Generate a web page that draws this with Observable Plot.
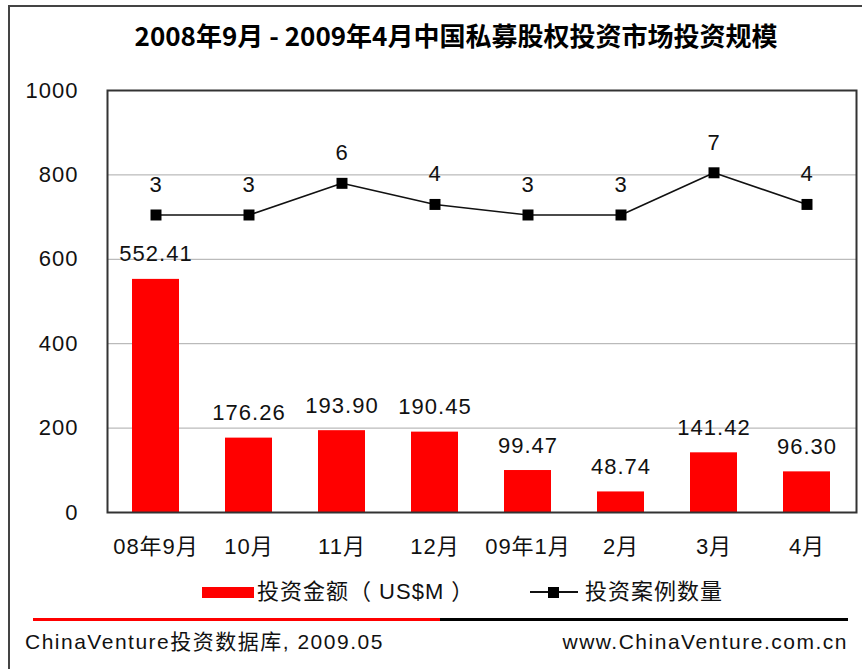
<!DOCTYPE html>
<html>
<head>
<meta charset="utf-8">
<script src="https://cdn.jsdelivr.net/npm/d3@7"></script>
<script src="https://cdn.jsdelivr.net/npm/@observablehq/plot@0.6"></script>
<style>
  html, body { margin: 0; padding: 0; background: #fff; overflow: hidden; }
  #wrap { position: relative; width: 862px; height: 669px; overflow: hidden; font-family: "Liberation Sans", Arial, "Noto Sans CJK SC", sans-serif; color: #111; }
  #outer { position: absolute; left: 8px; top: 5px; width: 900px; height: 700px; border-left: 2px solid #444; border-top: 2px solid #444; }
  #title { position: absolute; left: 0; width: 912px; top: 17px; text-align: center; font-family: "Noto Sans CJK SC", sans-serif; font-weight: 700; font-size: 26px; line-height: 36px; white-space: nowrap; color: #000; }
  #chart { position: absolute; left: 0; top: 60px; }
  #chart svg text { letter-spacing: 1px; }
  .leg { position: absolute; font-size: 22px; line-height: 26px; letter-spacing: 1px; white-space: nowrap; }
  .foot { position: absolute; font-size: 21px; line-height: 26px; letter-spacing: 1.5px; white-space: nowrap; }
</style>
</head>
<body>
<div id="wrap">
  <div id="outer"></div>
  <div id="title"></div>
  <div id="chart"></div>
  <div id="legend"></div>
  <div id="footer"></div>
</div>
<script>
const titleText = "2008年9月 - 2009年4月中国私募股权投资市场投资规模";
const categories = ["08年9月", "10月", "11月", "12月", "09年1月", "2月", "3月", "4月"];
const amounts = [552.41, 176.26, 193.90, 190.45, 99.47, 48.74, 141.42, 96.30];
const counts = [3, 3, 6, 4, 3, 3, 7, 4];
const yTicks = [0, 200, 400, 600, 800, 1000];
const countAxis = [-25.2, 14.8]; // hidden secondary axis domain
const seriesNames = ["投资金额（ US$M ）", "投资案例数量"];
const sourceText = "ChinaVenture投资数据库, 2009.05";
const siteText = "www.ChinaVenture.com.cn";

const yMax = yTicks[yTicks.length - 1];
const toPrimary = c => (c - countAxis[0]) / (countAxis[1] - countAxis[0]) * yMax;
const data = categories.map((cat, i) => ({cat, amount: amounts[i], count: counts[i], countY: toPrimary(counts[i])}));
const fmt = d3.format(".2f");

document.getElementById("title").textContent = titleText;

const chart = Plot.plot({
  width: 862,
  height: 520,
  marginLeft: 107,
  marginRight: 6,
  marginTop: 30,
  marginBottom: 68,
  x: {domain: categories, paddingInner: 0.49, paddingOuter: 0.245, label: null},
  y: {domain: [0, yMax], label: null},
  style: {fontFamily: '"Liberation Sans", Arial, "Noto Sans CJK SC", sans-serif', fontSize: "22px", color: "#111", background: "transparent"},
  marks: [
    Plot.ruleY(yTicks.filter(t => t > 0 && t < yMax), {stroke: "#aaa", strokeWidth: 1}),
    Plot.barY(data, {x: "cat", y: "amount", fill: "#ff0000"}),
    Plot.line(data, {x: "cat", y: "countY", stroke: "#111", strokeWidth: 1.6}),
    Plot.dot(data, {x: "cat", y: "countY", symbol: "square", r: 6.2, fill: "#000", stroke: "none"}),
    Plot.text(data, {x: "cat", y: "amount", text: d => fmt(d.amount), dy: -25, fontSize: 22, fill: "#111"}),
    Plot.text(data, {x: "cat", y: "countY", text: d => String(d.count), dy: -30, fontSize: 22, fill: "#111"}),
    Plot.frame({stroke: "#333", strokeWidth: 2}),
    Plot.axisY({ticks: yTicks, tickSize: 0, tickPadding: 29, fontSize: 22, tickFormat: d => String(d)}),
    Plot.axisX({tickSize: 0, tickPadding: 26, fontSize: 22})
  ]
});
document.getElementById("chart").appendChild(chart);

// Legend
const legend = document.getElementById("legend");
legend.innerHTML = `
  <div style="position:absolute;left:202px;top:587px;width:52px;height:11px;background:#ff0000"></div>
  <div class="leg" style="left:257px;top:579px">${seriesNames[0]}</div>
  <div style="position:absolute;left:530px;top:591px;width:48px;height:2px;background:#111"></div>
  <div style="position:absolute;left:548px;top:587px;width:11px;height:11px;background:#000"></div>
  <div class="leg" style="left:585px;top:579px">${seriesNames[1]}</div>
`;

// Footer
const footer = document.getElementById("footer");
footer.innerHTML = `
  <div style="position:absolute;left:33px;top:618px;width:407px;height:3px;background:#ff0000"></div>
  <div style="position:absolute;left:440px;top:618px;width:408px;height:3px;background:#000"></div>
  <div class="foot" style="left:25px;top:629px">${sourceText}</div>
  <div class="foot" style="right:14px;top:629px;text-align:right">${siteText}</div>
`;
</script>
</body>
</html>
